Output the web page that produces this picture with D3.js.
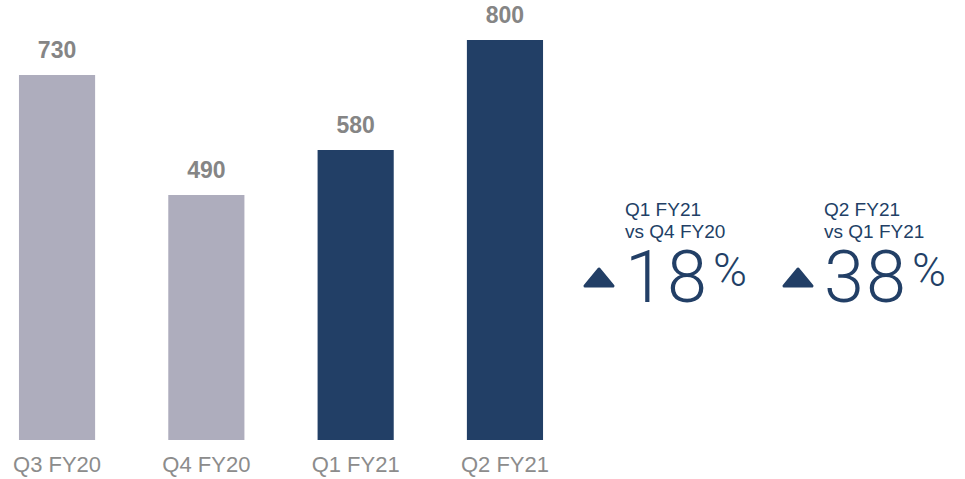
<!DOCTYPE html>
<html>
<head>
<meta charset="utf-8">
<script src="https://cdn.jsdelivr.net/npm/d3@7"></script>
<style>
  body { margin: 0; background: #fff; }
  .x-axis text { font-family: "Liberation Sans", Arial, sans-serif; font-size: 22px; fill: #8c8c8c; }
</style>
</head>
<body>
<script>
const quarters = ["Q3 FY20", "Q4 FY20", "Q1 FY21", "Q2 FY21"];
const revenue = [730, 490, 580, 800];
const barColors = ["#aeadbd", "#aeadbd", "#223f66", "#223f66"];
// comparisons: [current index, previous index]
const compareLines1 = ["Q1 FY21", "Q2 FY21"];
const compareLines2 = ["vs Q4 FY20", "vs Q1 FY21"];
const comparePairs = [[2, 1], [3, 2]];

const w = 965;
const h = 479;
const navy = "#223f66";

const svg = d3.select("body")
  .append("svg")
  .attr("width", w)
  .attr("height", h);

const x = d3.scaleBand()
  .domain(quarters)
  .range([0, 562])
  .paddingInner(0.49)
  .paddingOuter(0.127);

const y = d3.scaleLinear()
  .domain([0, 800])
  .range([440, 40]);

// bars
svg.append("g")
  .selectAll("rect")
  .data(revenue)
  .enter()
  .append("rect")
  .attr("x", (d, i) => x(quarters[i]))
  .attr("y", d => y(d))
  .attr("width", x.bandwidth())
  .attr("height", d => y(0) - y(d))
  .attr("fill", (d, i) => barColors[i]);

// value labels
svg.append("g")
  .selectAll("text")
  .data(revenue)
  .enter()
  .append("text")
  .attr("x", (d, i) => x(quarters[i]) + x.bandwidth() / 2)
  .attr("y", d => y(d) - 17)
  .attr("text-anchor", "middle")
  .style("font-family", "'Liberation Sans', Arial, sans-serif")
  .style("font-weight", "bold")
  .style("font-size", "23px")
  .style("fill", "#858585")
  .text(d => d);

// x axis labels
const xAxis = d3.axisBottom(x).tickSize(0).tickPadding(16);
svg.append("g")
  .attr("class", "x-axis")
  .attr("transform", "translate(0," + y(0) + ")")
  .call(xAxis)
  .call(g => g.select(".domain").remove());

// growth callouts
const cx = d3.scaleLinear().domain([0, 1]).range([583, 782]);
const callouts = svg.append("g")
  .selectAll("g")
  .data(comparePairs)
  .enter()
  .append("g")
  .attr("transform", (d, i) => "translate(" + cx(i) + ",0)");

callouts.append("path")
  .attr("d", "M2,286 L16,269 L30,286 Z")
  .attr("fill", navy)
  .attr("stroke", navy)
  .attr("stroke-width", 3)
  .attr("stroke-linejoin", "round");

callouts.append("text")
  .attr("x", 42)
  .attr("y", 216)
  .style("font-family", "'Liberation Sans', Arial, sans-serif")
  .style("font-size", "19px")
  .style("fill", navy)
  .text((d, i) => compareLines1[i]);

callouts.append("text")
  .attr("x", 42)
  .attr("y", 238)
  .style("font-family", "'Liberation Sans', Arial, sans-serif")
  .style("font-size", "19px")
  .style("fill", navy)
  .text((d, i) => compareLines2[i]);

const pct = callouts.append("text")
  .attr("x", 42)
  .attr("y", 302)
  .style("font-family", "Roboto, 'Open Sans', sans-serif")
  .style("font-weight", "300")
  .style("fill", navy);

pct.append("tspan")
  .style("font-size", "72px")
  .style("letter-spacing", "2px")
  .text(d => Math.round((revenue[d[0]] / revenue[d[1]] - 1) * 100));

pct.append("tspan")
  .attr("dx", 4)
  .attr("dy", -16)
  .style("font-size", "46px")
  .text("%");
</script>
</body>
</html>
